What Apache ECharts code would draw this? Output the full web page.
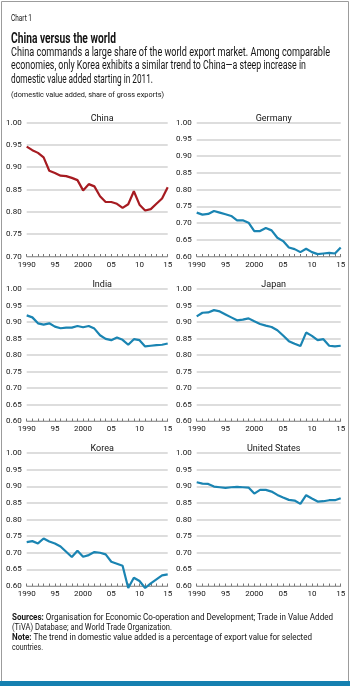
<!DOCTYPE html>
<html>
<head>
<meta charset="utf-8">
<script src="https://cdn.jsdelivr.net/npm/echarts@6/dist/echarts.min.js"></script>
<style>
  html, body { margin: 0; padding: 0; background: #fff; }
  #chart { width: 350px; height: 686px; }
</style>
</head>
<body>
<div id="chart"></div>
<script>
// data (domestic value added, share of gross exports)
const years = ['1990', '1991', '1992', '1993', '1994', '1995', '1996', '1997', '1998', '1999',
  '2000', '2001', '2002', '2003', '2004', '2005', '2006', '2007', '2008', '2009',
  '2010', '2011', '2012', '2013', '2014', '2015']
const yearLabels = { '1990': '1990', '1995': '95', '2000': '2000', '2005': '05', '2010': '10', '2015': '15' }

const china = [0.946, 0.938, 0.932, 0.922, 0.892, 0.887, 0.881, 0.880, 0.876, 0.871,
  0.848, 0.862, 0.857, 0.835, 0.822, 0.822, 0.818, 0.809, 0.817, 0.846,
  0.816, 0.803, 0.806, 0.818, 0.830, 0.855]
const germany = [0.731, 0.725, 0.727, 0.736, 0.731, 0.726, 0.721, 0.708, 0.708, 0.701,
  0.676, 0.676, 0.685, 0.678, 0.656, 0.646, 0.627, 0.622, 0.613, 0.623,
  0.613, 0.607, 0.609, 0.611, 0.609, 0.627]
const india = [0.920, 0.914, 0.896, 0.892, 0.896, 0.886, 0.881, 0.883, 0.883, 0.888,
  0.884, 0.888, 0.880, 0.860, 0.849, 0.845, 0.853, 0.846, 0.831, 0.848,
  0.845, 0.826, 0.828, 0.830, 0.831, 0.835]
const japan = [0.917, 0.928, 0.929, 0.936, 0.932, 0.923, 0.914, 0.905, 0.907, 0.911,
  0.902, 0.894, 0.889, 0.885, 0.875, 0.859, 0.842, 0.834, 0.827, 0.868,
  0.858, 0.845, 0.848, 0.828, 0.826, 0.828]
const korea = [0.732, 0.735, 0.728, 0.743, 0.734, 0.728, 0.719, 0.703, 0.687, 0.706,
  0.688, 0.693, 0.702, 0.700, 0.695, 0.673, 0.667, 0.661, 0.594, 0.625,
  0.615, 0.594, 0.608, 0.620, 0.632, 0.635]
const us = [0.912, 0.908, 0.907, 0.899, 0.897, 0.895, 0.897, 0.898, 0.897, 0.896,
  0.878, 0.889, 0.889, 0.884, 0.874, 0.866, 0.859, 0.857, 0.847, 0.873,
  0.863, 0.854, 0.855, 0.858, 0.858, 0.864]

const FONT = 'Roboto, "Liberation Sans", sans-serif'
const BLUE = '#1a84b2'
const RED = '#a61b21'
const INK = '#141414'

const panels = [
  { name: 'China', data: china, color: RED, min: 0.70, left: 26.7, top: 122.5, width: 141, height: 134 },
  { name: 'Germany', data: germany, color: BLUE, min: 0.60, left: 196.7, top: 122.5, width: 144, height: 134 },
  { name: 'India', data: india, color: BLUE, min: 0.60, left: 26.7, top: 289, width: 141, height: 132 },
  { name: 'Japan', data: japan, color: BLUE, min: 0.60, left: 196.7, top: 289, width: 144, height: 132 },
  { name: 'Korea', data: korea, color: BLUE, min: 0.60, left: 26.7, top: 453, width: 141, height: 133 },
  { name: 'United States', data: us, color: BLUE, min: 0.60, left: 196.7, top: 453, width: 144, height: 133 }
]

const chart = echarts.init(document.getElementById('chart'))

// the reference uses a condensed face; squeeze text horizontally to the width it has there
const ctx = document.createElement('canvas').getContext('2d')
const measure = (text, size, weight) => {
  ctx.font = `${weight || 'normal'} ${size}px ${FONT}`
  return ctx.measureText(text).width
}

const grid = panels.map(p => ({ left: p.left, top: p.top, width: p.width, height: p.height, containLabel: false }))

const xAxis = panels.map((p, i) => ({
  type: 'category',
  gridIndex: i,
  data: years,
  boundaryGap: false,
  axisLine: { show: true, lineStyle: { color: '#9a9a9a', width: 1 } },
  axisTick: { show: true, inside: true, length: 2.5, interval: 0, lineStyle: { color: '#777' } },
  axisLabel: {
    interval: 4,
    margin: 4,
    color: INK,
    fontSize: 8,
    fontFamily: FONT,
    formatter: v => yearLabels[v] || ''
  },
  splitLine: { show: false }
}))

const yAxis = panels.map((p, i) => ({
  type: 'value',
  gridIndex: i,
  min: p.min,
  max: 1.0,
  interval: 0.05,
  axisLine: { show: false },
  axisTick: { show: false },
  axisLabel: {
    margin: 5,
    color: INK,
    fontSize: 8,
    fontFamily: FONT,
    formatter: v => v.toFixed(2)
  },
  splitLine: { show: true, lineStyle: { color: '#d2d2d2', width: 1.5 } }
}))

const series = panels.map((p, i) => ({
  type: 'line',
  xAxisIndex: i,
  yAxisIndex: i,
  data: p.data,
  showSymbol: false,
  clip: false,
  lineStyle: { color: p.color, width: 2.2 },
  itemStyle: { color: p.color },
  animation: false
}))

const title = panels.map(p => ({
  text: p.name,
  left: p.left + p.width / 2,
  top: p.top - 13.5,
  textAlign: 'center',
  textStyle: { fontSize: 9, fontWeight: 'normal', color: INK, fontFamily: FONT }
}))

// one line of text, x/y = left edge / vertical centre, w = width it takes in the reference
const line = (x, y, text, size, w, weight) => ({
  type: 'text',
  x,
  y,
  scaleX: w / measure(text, size, weight),
  silent: true,
  style: {
    text, fontSize: size, fontWeight: weight || 'normal', fill: INK,
    fontFamily: FONT, verticalAlign: 'middle', align: 'left'
  }
})

// footer line with a bold lead-in word
const richLine = (x, y, lead, rest, size, w) => {
  const full = measure(lead, size, 'bold') + measure(rest, size)
  return {
    type: 'text',
    x,
    y,
    scaleX: w / full,
    silent: true,
    style: {
      text: `{b|${lead}}${rest}`,
      fontSize: size, fill: INK, fontFamily: FONT, verticalAlign: 'middle', align: 'left',
      rich: { b: { fontWeight: 'bold', fontSize: size, fontFamily: FONT, fill: INK } }
    }
  }
}

const graphic = [
  { type: 'rect', shape: { x: 1.5, y: 1.5, width: 347, height: 683 }, style: { fill: 'none', stroke: '#9c9c9c', lineWidth: 1 }, silent: true },
  { type: 'rect', shape: { x: 0, y: 681, width: 350, height: 5 }, style: { fill: '#1580b0' }, silent: true },
  line(11, 19, 'Chart 1', 8.5, 21),
  line(11, 39, 'China versus the world', 14, 105, 'bold'),
  line(11, 52.5, 'China commands a large share of the world export market. Among comparable', 12.5, 319),
  line(11, 66, 'economies, only Korea exhibits a similar trend to China\u2014a steep increase in', 12.5, 295),
  line(11, 80, 'domestic value added starting in 2011.', 12.5, 142),
  line(11, 95, '(domestic value added, share of gross exports)', 8, 153),
  richLine(12, 618, 'Sources:', ' Organisation for Economic Co-operation and Development; Trade in Value Added', 9, 321),
  line(12, 628, '(TiVA) Database; and World Trade Organization.', 9, 160),
  richLine(12, 638, 'Note:', ' The trend in domestic value added is a percentage of export value for selected', 9, 300),
  line(12, 648, 'countries.', 9, 31)
]

chart.setOption({
  backgroundColor: '#fff',
  animation: false,
  title,
  grid,
  xAxis,
  yAxis,
  series,
  graphic
})

window.addEventListener('resize', () => chart.resize())
</script>
</body>
</html>
